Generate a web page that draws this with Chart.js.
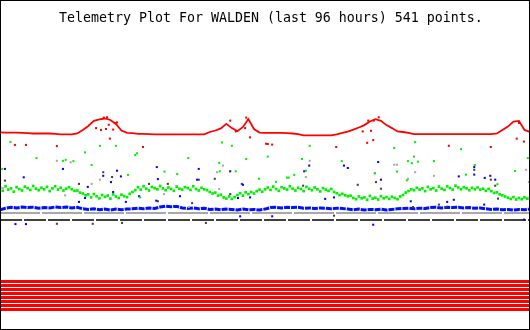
<!DOCTYPE html>
<html>
<head>
<meta charset="utf-8">
<script src="https://cdn.jsdelivr.net/npm/chart.js@4/dist/chart.umd.min.js"></script>
<style>
  body { margin: 0; background: #fff; }
  canvas { display: block; }
</style>
</head>
<body>
<canvas id="telemetryChart" width="530" height="330"></canvas>
<script>
const TITLE = 'Telemetry Plot For WALDEN (last 96 hours) 541 points.';
const HOURS = 96;

// hourly readings (h0 .. h96)
const redValues = [
  65.9, 65.8, 65.8, 65.8, 65.7, 65.6, 65.5, 65.5, 65.5, 65.5,
  65.4, 65.2, 65.2, 65.2, 65.5, 66.7, 68.0, 69.7, 70.2, 70.5,
  70.0, 68.7, 66.5, 65.7, 65.6, 65.4, 65.4, 65.3, 65.2, 65.2,
  65.2, 65.2, 65.2, 65.2, 65.2, 65.2, 65.2, 65.2, 66.0, 66.5,
  67.2, 68.7, 67.3, 66.3, 67.7, 70.3, 67.0, 65.8, 65.7, 65.7,
  65.7, 65.7, 65.6, 65.5, 65.3, 64.9, 64.9, 64.9, 64.9, 64.9,
  64.9, 65.2, 65.7, 66.1, 66.8, 67.5, 68.3, 69.5, 70.3, 69.7,
  68.3, 67.3, 66.2, 66.0, 65.7, 65.3, 65.3, 65.3, 65.3, 65.3,
  65.3, 65.3, 65.3, 65.3, 65.3, 65.3, 65.3, 65.3, 65.3, 65.3,
  65.5, 66.7, 67.8, 69.5, 69.7, 66.7, 66.0
];
const blueValues = [
  40.1, 40.6, 40.9, 40.7, 41.0, 40.8, 40.9, 40.6, 40.8, 40.7,
  41.0, 40.8, 41.0, 40.7, 40.9, 40.4, 40.2, 40.4, 40.1, 40.3,
  40.0, 40.3, 40.1, 40.3, 40.4, 40.6, 40.4, 40.7, 40.5, 41.0,
  41.3, 41.1, 41.2, 40.7, 40.5, 40.7, 40.4, 40.6, 40.2, 40.3,
  40.1, 40.3, 40.2, 40.0, 40.3, 40.1, 40.2, 40.0, 40.3, 40.8,
  40.9, 40.7, 40.9, 40.8, 40.9, 40.6, 40.7, 40.5, 40.7, 40.6,
  40.4, 40.6, 40.5, 40.3, 40.1, 40.3, 40.0, 40.2, 40.1, 40.3,
  40.0, 40.2, 40.4, 40.5, 40.6, 40.4, 40.6, 40.5, 40.8, 40.9,
  40.7, 40.9, 40.8, 40.9, 40.7, 40.8, 40.6, 40.7, 40.4, 40.2,
  40.3, 40.1, 40.2, 40.0, 40.2, 40.1, 40.3
];
// half-hourly readings (0 .. 96 h)
const greenValues = [
  47.5, 46.4, 47.9, 46.8, 47.2, 46.1, 47.6, 47.0, 46.5, 47.8,
  47.3, 46.7, 48.0, 47.1, 46.6, 47.4, 46.9, 47.7, 46.3, 47.2,
  47.9, 46.8, 47.4, 46.5, 47.1, 47.6, 46.9, 46.4,
  46.5, 45.8, 45.5, 44.9, 45.2,
  44.2, 45.3, 44.6, 43.9, 45.0, 44.4, 44.8, 43.8, 45.2, 44.5, 44.0, 45.1, 44.6, 44.3, 45.4,
  46.0, 46.6,
  47.6, 46.8, 47.9, 47.1, 46.5, 47.7, 47.3, 46.9, 48.0, 47.2,
  46.6, 47.5, 47.0, 46.4, 47.8, 47.1, 46.8, 47.6, 47.3, 46.7,
  47.9, 47.0, 46.5, 47.4, 46.9,
  46.6, 46.0, 45.5, 45.8, 44.8, 45.1,
  44.2, 43.8, 44.5, 43.7, 44.3,
  45.0, 45.6, 44.8, 45.9, 45.3, 46.0, 45.5, 46.3, 46.8, 46.1, 46.9,
  47.5, 46.7, 47.8, 47.0, 46.4, 47.6, 47.2, 46.8, 47.9, 47.1,
  46.5, 47.4, 47.0, 46.3, 47.7, 47.1, 46.6, 47.5, 46.9, 46.2,
  47.3, 46.8, 46.4, 47.0,
  46.0, 45.6, 45.0, 45.4, 44.9, 44.6,
  44.8, 44.0, 43.6, 44.5, 43.9, 44.2, 43.4, 44.7, 43.8, 44.1,
  43.5, 44.6, 43.9, 44.3, 43.7, 44.4, 44.0, 43.6, 44.5,
  45.0, 45.8, 46.3, 46.9,
  46.6, 47.4, 46.8, 47.2, 46.3, 47.7, 46.9, 47.3, 46.5, 47.8,
  47.1, 46.7, 47.9, 47.3, 46.8, 48.1, 47.5, 46.9, 47.6, 47.2,
  46.6, 47.4, 46.9, 47.5, 46.8, 47.1, 46.4, 47.0,
  46.3, 45.7, 45.9, 45.2, 44.9, 44.5,
  44.1, 43.7, 44.3, 43.5, 44.0, 43.6, 44.2, 43.8, 44.0
];
const lightGrayValues = [39.0, 39.0];
const darkGrayValues = [36.67, 36.67];
const stripeLevels = [16.17, 14.83, 13.5, 12.17, 10.83, 9.5, 8.17, 6.83];

// stray readings [hour, value]
const redStray = [
  [2.7, 61.7], [4.7, 61.7], [10.3, 61.3], [19.9, 63.8], [25.9, 61.0],
  [17.4, 67.3], [18.3, 66.7], [19.2, 67.0], [18.8, 70.8], [19.4, 70.9],
  [19.7, 68.4], [20.8, 69.0], [21.2, 69.2], [20.5, 66.8], [41.7, 69.8],
  [42.7, 66.2], [44.4, 67.3], [44.6, 70.8], [44.9, 70.1], [45.3, 64.2],
  [48.2, 62.1], [48.5, 62.0], [49.3, 61.8], [60.9, 61.0], [66.5, 62.4],
  [67.6, 63.3], [66.7, 69.8], [67.7, 69.8], [68.6, 70.9], [65.7, 66.2],
  [67.2, 66.4], [81.3, 61.4], [88.9, 61.0], [93.6, 63.8], [94.9, 62.8],
  [94.0, 69.0]
];
const greenStray = [
  [1.9, 62.7], [6.6, 57.3], [11.4, 56.4], [11.9, 56.7], [13.3, 56.3],
  [15.4, 59.2], [16.6, 55.0], [18.1, 61.4], [21.0, 61.4], [24.5, 58.3],
  [24.8, 58.9], [29.8, 52.8], [23.2, 51.7], [32.1, 52.0], [0.4, 53.7],
  [25.4, 44.2], [40.2, 62.5], [42.0, 61.4], [34.1, 57.3], [39.8, 52.9],
  [39.7, 55.7], [42.7, 52.9], [44.6, 57.0], [46.9, 50.4], [48.5, 57.8],
  [50.0, 49.4], [52.0, 50.8], [52.3, 50.8], [53.3, 51.7], [54.7, 57.0],
  [56.1, 61.4], [55.4, 53.1], [61.9, 56.3], [71.4, 60.7], [75.2, 62.6],
  [75.0, 57.8], [73.9, 56.3], [74.6, 55.6], [75.7, 56.1], [78.6, 56.3],
  [71.9, 52.8], [67.9, 52.2], [83.5, 60.3], [86.0, 55.0], [84.4, 51.8],
  [73.7, 49.9], [93.3, 53.0], [95.6, 57.3], [90.1, 48.6]
];
const blueStray = [
  [0.9, 53.7], [4.3, 50.9], [11.4, 53.7], [15.9, 47.7], [14.3, 42.7],
  [18.7, 51.4], [20.1, 49.3], [21.2, 53.1], [21.9, 51.2], [20.5, 46.0],
  [22.8, 42.7], [15.4, 44.0], [2.8, 35.3], [4.7, 35.3], [28.4, 54.3],
  [28.6, 50.3], [36.0, 53.7], [35.7, 50.1], [32.6, 44.6], [28.3, 43.1],
  [41.7, 52.9], [43.1, 44.0], [44.0, 48.4], [45.3, 44.2], [25.2, 44.6],
  [43.5, 37.9], [56.0, 54.8], [63.0, 54.0], [62.3, 54.8], [55.1, 52.9],
  [68.5, 56.0], [69.0, 50.1], [58.9, 43.7], [60.5, 44.2], [67.6, 35.1],
  [49.3, 37.9], [85.9, 54.3], [85.9, 51.8], [83.1, 51.2], [87.8, 50.7],
  [88.8, 51.4], [89.7, 50.1], [81.0, 42.7], [82.2, 43.4], [74.4, 42.9],
  [87.7, 41.8], [94.9, 36.8]
];
const lightGrayStray = [
  [10.3, 56.4], [12.8, 55.9], [18.1, 50.1], [16.6, 48.7], [11.8, 44.9],
  [0.5, 47.3], [40.4, 54.8], [39.3, 52.6], [39.7, 47.0], [29.7, 45.3],
  [34.2, 41.0], [56.1, 56.4], [55.4, 51.0], [67.9, 52.3], [71.4, 55.1],
  [71.9, 55.1], [75.2, 52.6], [78.6, 51.4], [73.9, 50.4], [95.3, 53.4],
  [95.8, 49.3]
];
const darkGrayStray = [
  [0.9, 49.8], [14.3, 48.7], [18.7, 52.6], [20.3, 51.0], [10.3, 35.4],
  [16.8, 35.4], [22.1, 35.7], [27.0, 48.7], [30.4, 48.7], [36.0, 50.1],
  [38.9, 50.4], [41.7, 45.3], [43.8, 48.7], [28.6, 42.9], [34.8, 42.3],
  [37.3, 35.7], [64.8, 48.4], [69.0, 47.1], [68.1, 49.3], [54.9, 48.1],
  [60.5, 38.1], [85.9, 53.4], [88.9, 50.1], [89.7, 48.1], [90.2, 43.8],
  [74.8, 41.0], [79.5, 41.8], [80.8, 40.9]
];

// spread a series evenly over the 96 hours
function overTime(values) {
    return values.map((v, i) => ({ x: i * HOURS / (values.length - 1), y: v }));
}
function pairs(list) {
    return list.map(p => ({ x: p[0], y: p[1] }));
}
function lineSet(data, color, width, dash) {
    return {
        data: data,
        showLine: true,
        borderColor: color,
        borderWidth: width,
        borderDash: dash || [],
        pointRadius: 0,
        tension: 0,
    };
}
function dotSet(data, color, radius) {
    return {
        data: data,
        showLine: false,
        pointStyle: 'rect',
        pointRadius: radius || 1.45,
        pointBorderWidth: 0,
        backgroundColor: color,
    };
}

const framePlugin = {
    id: 'frame',
    afterDraw(chart) {
        const c = chart.ctx;
        c.save();
        c.fillStyle = '#000';
        c.font = '13px "DejaVu Sans Mono", monospace';
        // title in the reference runs from x=59 to x=483
        const size = 13 * 424 / c.measureText(TITLE).width;
        c.font = size.toFixed(2) + 'px "DejaVu Sans Mono", monospace';
        c.textBaseline = 'alphabetic';
        c.fillText(TITLE, 59, 22);
        c.strokeStyle = '#000';
        c.lineWidth = 1;
        c.strokeRect(0.5, 0.5, 529, 329);
        c.restore();
    }
};

function renderTelemetry() {
    const ctx = document.getElementById('telemetryChart').getContext('2d');
    const datasets = [];

    datasets.push(lineSet(overTime(redValues), '#ff0000', 1.8));
    datasets.push(dotSet(pairs(redStray), '#ff0000'));
    datasets.push(dotSet(overTime(greenValues), '#00f000', 1.9));
    datasets.push(dotSet(pairs(greenStray), '#00f000'));
    datasets.push(dotSet(pairs(blueStray), '#0000ff'));
    datasets.push(dotSet(pairs(lightGrayStray), '#a8a8a8'));
    datasets.push(dotSet(pairs(darkGrayStray), '#404040'));
    datasets.push(lineSet(overTime(blueValues), '#0010ff', 3, [6, 1]));
    datasets.push(lineSet(overTime(lightGrayValues), '#a8a8a8', 2, [40, 2]));
    datasets.push(lineSet(overTime(darkGrayValues), '#404040', 2, [22, 2]));
    stripeLevels.forEach(level => {
        datasets.push(lineSet(overTime([level, level]), '#ff0000', 3));
    });

    new Chart(ctx, {
        type: 'scatter',
        data: { datasets: datasets },
        plugins: [framePlugin],
        options: {
            responsive: false,
            devicePixelRatio: 1,
            animation: false,
            layout: { padding: 0, autoPadding: false },
            plugins: {
                legend: { display: false },
                title: { display: false },
                tooltip: { enabled: false },
            },
            scales: {
                x: { type: 'linear', min: 0, max: HOURS, display: false },
                y: { type: 'linear', min: 0, max: 110, display: false },
            }
        }
    });
}

renderTelemetry();
</script>
</body>
</html>
